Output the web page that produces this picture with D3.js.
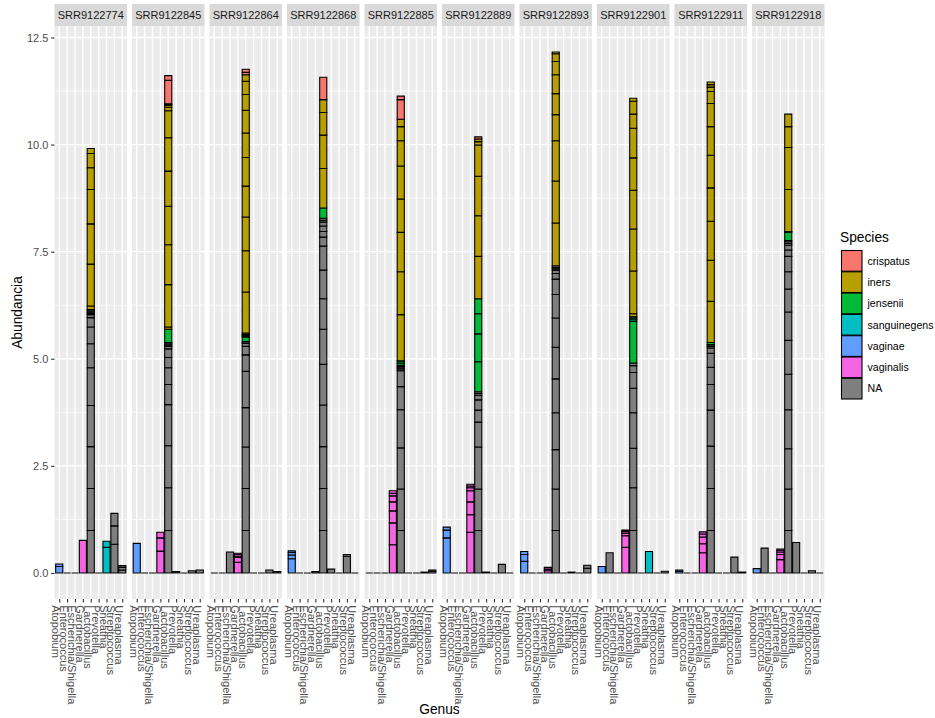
<!DOCTYPE html>
<html>
<head>
<meta charset="utf-8">
<script src="https://cdn.jsdelivr.net/npm/d3@7"></script>
<style>
  body { margin: 0; background: #fff; }
  svg { display: block; }
  text { font-family: "Liberation Sans", Arial, Helvetica, sans-serif; }
</style>
</head>
<body>
<svg id="chart" width="935" height="718"></svg>
<script>
// ---- data -------------------------------------------------------------
const samples = ["SRR9122774", "SRR9122845", "SRR9122864", "SRR9122868", "SRR9122885",
                 "SRR9122889", "SRR9122893", "SRR9122901", "SRR9122911", "SRR9122918"];
const genera = ["Atopobium", "Enterococcus", "Escherichia/Shigella", "Gardnerella", "Lactobacillus",
                "Prevotella", "Sneathia", "Streptococcus", "Ureaplasma"];
const speciesLevels = ["crispatus", "iners", "jensenii", "sanguinegens", "vaginae", "vaginalis", "NA"];
const speciesColors = ["#F8766D", "#B79F00", "#00BA38", "#00BFC4", "#619CFF", "#F564E3", "#7F7F7F"];
const yTicks = [0, 2.5, 5, 7.5, 10, 12.5];
const yMinorTicks = [1.25, 3.75, 6.25, 8.75, 11.25];

// OTU abundances per sample: [genus, species, per-OTU values (stack order)]
const SRR9122774 = [
  ["Atopobium", "vaginae", [0.15, 0.06]],
  ["Gardnerella", "vaginalis", [0.76]],
  ["Lactobacillus", "NA", [0.99, 0.98, 0.98, 0.96, 0.88, 0.56, 0.39, 0.22, 0.07, 0.03, 0.03, 0.03]],
  ["Lactobacillus", "jensenii", [0.03]],
  ["Lactobacillus", "iners", [0.08, 0.98, 0.94, 0.80, 0.51, 0.33, 0.12]],
  ["Sneathia", "sanguinegens", [0.60, 0.14]],
  ["Streptococcus", "NA", [0.67, 0.43, 0.29]],
  ["Ureaplasma", "NA", [0.07, 0.06, 0.04]]
];
const SRR9122845 = [
  ["Atopobium", "vaginae", [0.69]],
  ["Gardnerella", "vaginalis", [0.51, 0.31, 0.13]],
  ["Lactobacillus", "NA", [0.99, 1.00, 0.98, 0.96, 0.47, 0.39, 0.24, 0.20, 0.06, 0.03, 0.03, 0.03]],
  ["Lactobacillus", "jensenii", [0.31]],
  ["Lactobacillus", "iners", [0.05, 0.99, 0.93, 0.90, 0.82, 0.78, 0.63, 0.08, 0.05]],
  ["Lactobacillus", "crispatus", [0.03, 0.55, 0.11]],
  ["Prevotella", "NA", [0.03]],
  ["Streptococcus", "NA", [0.05]],
  ["Ureaplasma", "NA", [0.07]]
];
const SRR9122864 = [
  ["Escherichia/Shigella", "NA", [0.49]],
  ["Gardnerella", "vaginalis", [0.25, 0.11, 0.03, 0.04, 0.03]],
  ["Lactobacillus", "NA", [0.99, 0.98, 0.97, 0.92, 0.85, 0.38, 0.20, 0.07, 0.04]],
  ["Lactobacillus", "jensenii", [0.11]],
  ["Lactobacillus", "iners", [0.03, 0.03, 0.03, 0.96, 0.96, 0.79, 0.72, 0.67, 0.57, 0.53, 0.37, 0.31, 0.15]],
  ["Lactobacillus", "crispatus", [0.06, 0.07]],
  ["Streptococcus", "NA", [0.07]],
  ["Ureaplasma", "NA", [0.03]]
];
const SRR9122868 = [
  ["Atopobium", "vaginae", [0.33, 0.09, 0.06, 0.04]],
  ["Gardnerella", "NA", [0.03]],
  ["Lactobacillus", "NA", [0.99, 0.98, 0.98, 0.97, 0.95, 0.82, 0.71, 0.67, 0.56, 0.21, 0.13, 0.13, 0.09, 0.04, 0.05]],
  ["Lactobacillus", "jensenii", [0.24]],
  ["Lactobacillus", "iners", [0.92, 0.78, 0.53, 0.30]],
  ["Lactobacillus", "crispatus", [0.52]],
  ["Prevotella", "NA", [0.09]],
  ["Streptococcus", "NA", [0.39, 0.04]]
];
const SRR9122885 = [
  ["Gardnerella", "vaginalis", [0.66, 0.51, 0.28, 0.21, 0.14, 0.06, 0.06]],
  ["Lactobacillus", "NA", [0.99, 0.97, 0.96, 0.89, 0.54, 0.37, 0.04, 0.03, 0.03, 0.03]],
  ["Lactobacillus", "jensenii", [0.05, 0.05]],
  ["Lactobacillus", "iners", [1.08, 1.00, 0.92, 0.78, 0.77, 0.59, 0.33, 0.17]],
  ["Lactobacillus", "crispatus", [0.46, 0.08]],
  ["Streptococcus", "NA", [0.02]],
  ["Ureaplasma", "NA", [0.04, 0.03]]
];
const SRR9122889 = [
  ["Atopobium", "vaginae", [0.82, 0.18, 0.07]],
  ["Gardnerella", "vaginalis", [0.95, 0.41, 0.30, 0.26, 0.07, 0.04, 0.04]],
  ["Lactobacillus", "NA", [0.99, 0.97, 0.98, 0.58, 0.28, 0.24, 0.11, 0.04, 0.04]],
  ["Lactobacillus", "jensenii", [0.70, 0.65, 0.47, 0.35]],
  ["Lactobacillus", "iners", [0.99, 0.95, 0.92, 0.73, 0.08, 0.06]],
  ["Lactobacillus", "crispatus", [0.05]],
  ["Prevotella", "NA", [0.02]],
  ["Streptococcus", "NA", [0.20]]
];
const SRR9122893 = [
  ["Atopobium", "vaginae", [0.27, 0.16, 0.07]],
  ["Gardnerella", "vaginalis", [0.05, 0.04, 0.04]],
  ["Lactobacillus", "NA", [0.99, 0.97, 0.92, 0.86, 0.79, 0.74, 0.68, 0.55, 0.36, 0.13, 0.08, 0.03, 0.03, 0.04]],
  ["Lactobacillus", "iners", [1.00, 0.98, 0.94, 0.61, 0.49, 0.44, 0.31, 0.18, 0.04]],
  ["Sneathia", "NA", [0.02]],
  ["Ureaplasma", "NA", [0.11, 0.07]]
];
const SRR9122901 = [
  ["Atopobium", "vaginae", [0.15]],
  ["Enterococcus", "NA", [0.47]],
  ["Gardnerella", "vaginalis", [0.60, 0.27, 0.06, 0.04, 0.03]],
  ["Lactobacillus", "NA", [0.99, 1.00, 0.92, 0.83, 0.57, 0.37, 0.16, 0.06]],
  ["Lactobacillus", "jensenii", [0.97, 0.04, 0.04, 0.03]],
  ["Lactobacillus", "iners", [0.07, 1.00, 0.98, 0.90, 0.76, 0.69, 0.33, 0.30, 0.07]],
  ["Sneathia", "sanguinegens", [0.50]],
  ["Ureaplasma", "NA", [0.04]]
];
const SRR9122911 = [
  ["Atopobium", "vaginae", [0.04, 0.03]],
  ["Gardnerella", "vaginalis", [0.47, 0.21, 0.16, 0.07, 0.05]],
  ["Lactobacillus", "NA", [0.99, 0.98, 0.99, 0.84, 0.60, 0.40, 0.33, 0.12, 0.04]],
  ["Lactobacillus", "jensenii", [0.04, 0.05]],
  ["Lactobacillus", "iners", [0.96, 0.96, 0.91, 0.78, 0.76, 0.67, 0.54, 0.28, 0.10, 0.06, 0.06]],
  ["Streptococcus", "NA", [0.37]],
  ["Ureaplasma", "NA", [0.02]]
];
const SRR9122918 = [
  ["Atopobium", "vaginae", [0.10]],
  ["Enterococcus", "NA", [0.58]],
  ["Gardnerella", "vaginalis", [0.31, 0.12, 0.06, 0.04, 0.03]],
  ["Lactobacillus", "NA", [0.99, 0.97, 0.94, 0.91, 0.83, 0.79, 0.66, 0.54, 0.40, 0.36, 0.15, 0.11, 0.04, 0.04, 0.03]],
  ["Lactobacillus", "jensenii", [0.19]],
  ["Lactobacillus", "iners", [0.02, 0.98, 0.98, 0.49, 0.29]],
  ["Prevotella", "NA", [0.71]],
  ["Streptococcus", "NA", [0.05]]
];
const sampleTables = [SRR9122774, SRR9122845, SRR9122864, SRR9122868, SRR9122885,
                      SRR9122889, SRR9122893, SRR9122901, SRR9122911, SRR9122918];

// ---- layout -----------------------------------------------------------
const panelLeft = 54.5, panelW = 72.5, panelGap = 5;
const panelTop = 26, panelBottom = 599, stripTop = 4;
const fs = 11, legendFs = 10.6, titleFs = 13.75;

// ---- stacking: NA at the bottom, first species level on top -------------
const bars = [];
samples.forEach((s, i) => {
  const table = sampleTables[i];
  genera.forEach(g => {
    let cum = 0;
    const segs = [];
    speciesLevels.slice().reverse().forEach(sp => {
      table.filter(r => r[0] === g && r[1] === sp).forEach(r => {
        r[2].forEach(v => { segs.push({ species: sp, y0: cum, y1: cum + v }); cum += v; });
      });
    });
    bars.push({ sample: s, genus: g, total: cum, segs });
  });
});

const yMax = d3.max(bars, b => b.total);
const y = d3.scaleLinear().domain([-0.05 * yMax, 1.05 * yMax]).range([panelBottom, panelTop]);
const x = d3.scalePoint().domain(genera).range([0, panelW]).padding(0.6);
const barW = x.step() * 0.9;
const color = d3.scaleOrdinal().domain(speciesLevels).range(speciesColors);

const svg = d3.select("#chart");
svg.append("rect").attr("width", 935).attr("height", 718).attr("fill", "#fff");

function barPath(xc, v0, v1) {
  const x0 = xc - barW / 2, y0 = y(v0), y1 = y(v1);
  return `M${x0},${y1}H${x0 + barW}V${y0}H${x0}Z`;
}

samples.forEach((s, i) => {
  const g = svg.append("g").attr("transform", `translate(${panelLeft + i * (panelW + panelGap)},0)`);

  g.append("rect").attr("x", 0).attr("y", panelTop)
    .attr("width", panelW).attr("height", panelBottom - panelTop).attr("fill", "#EBEBEB");

  g.selectAll("line.minor").data(yMinorTicks).join("line")
    .attr("x1", 0).attr("x2", panelW).attr("y1", d => y(d)).attr("y2", d => y(d))
    .attr("stroke", "#fff").attr("stroke-width", 0.7);
  g.selectAll("line.majorY").data(yTicks).join("line")
    .attr("x1", 0).attr("x2", panelW).attr("y1", d => y(d)).attr("y2", d => y(d))
    .attr("stroke", "#fff").attr("stroke-width", 1.4);
  g.selectAll("line.majorX").data(genera).join("line")
    .attr("x1", d => x(d)).attr("x2", d => x(d)).attr("y1", panelTop).attr("y2", panelBottom)
    .attr("stroke", "#fff").attr("stroke-width", 1.4);

  const sampleBars = bars.filter(b => b.sample === s);
  sampleBars.forEach(b => {
    const segs = b.segs.length ? b.segs : [{ species: "NA", y0: 0, y1: 0 }];
    g.append("g").selectAll("path").data(segs).join("path")
      .attr("d", d => barPath(x(b.genus), d.y0, d.y1))
      .attr("fill", d => color(d.species))
      .attr("stroke", "#000").attr("stroke-width", 1.1);
  });

  // facet strip
  g.append("rect").attr("x", 0).attr("y", stripTop)
    .attr("width", panelW).attr("height", panelTop - stripTop).attr("fill", "#D9D9D9");
  g.append("text").attr("x", panelW / 2).attr("y", (stripTop + panelTop) / 2)
    .attr("text-anchor", "middle").attr("dominant-baseline", "central")
    .attr("font-size", fs).attr("fill", "#1A1A1A").text(s);

  // x axis with rotated genus labels
  const xa = g.append("g").attr("transform", `translate(0,${panelBottom})`)
    .call(d3.axisBottom(x).tickSize(3.4).tickPadding(2.75));
  xa.select(".domain").remove();
  xa.selectAll(".tick line").attr("stroke", "#333333").attr("stroke-width", 1.1);
  xa.selectAll(".tick text")
    .attr("transform", "translate(0,6.2) rotate(90)")
    .attr("x", 0).attr("y", 0).attr("dy", 3.5)
    .attr("text-anchor", "start").attr("dominant-baseline", "central")
    .attr("font-size", fs).attr("font-family", null).attr("fill", "#4D4D4D");
});

// y axis
const ya = svg.append("g").attr("transform", `translate(${panelLeft},0)`)
  .call(d3.axisLeft(y).tickValues(yTicks).tickFormat(d3.format(".1f")).tickSize(3.4).tickPadding(2.75));
ya.select(".domain").remove();
ya.selectAll(".tick line").attr("stroke", "#333333").attr("stroke-width", 1.1);
ya.selectAll(".tick text").attr("font-size", fs).attr("font-family", null).attr("fill", "#4D4D4D");

// axis titles
const plotMid = panelLeft + (samples.length * (panelW + panelGap) - panelGap) / 2;
svg.append("text").attr("x", plotMid).attr("y", 714)
  .attr("text-anchor", "middle").attr("font-size", titleFs).attr("fill", "#000").text("Genus");
svg.append("text").attr("transform", `translate(22,${(panelTop + panelBottom) / 2}) rotate(-90)`)
  .attr("text-anchor", "middle").attr("font-size", titleFs).attr("fill", "#000").text("Abundancia");

// legend
const legX = 841, legY = 250, keyH = 21.3, keyW = 20.5;
svg.append("text").attr("x", 840).attr("y", 242)
  .attr("font-size", titleFs).attr("fill", "#000").text("Species");
const leg = svg.append("g").selectAll("g").data(speciesLevels).join("g")
  .attr("transform", (d, i) => `translate(${legX},${legY + i * keyH})`);
leg.append("rect").attr("x", 0.5).attr("y", 0.5).attr("width", keyW).attr("height", keyH - 0.6)
  .attr("fill", d => color(d)).attr("stroke", "#000").attr("stroke-width", 1.1);
leg.append("text").attr("x", 26.5).attr("y", keyH / 2)
  .attr("dominant-baseline", "central").attr("font-size", legendFs).attr("fill", "#000").text(d => d);
</script>
</body>
</html>
